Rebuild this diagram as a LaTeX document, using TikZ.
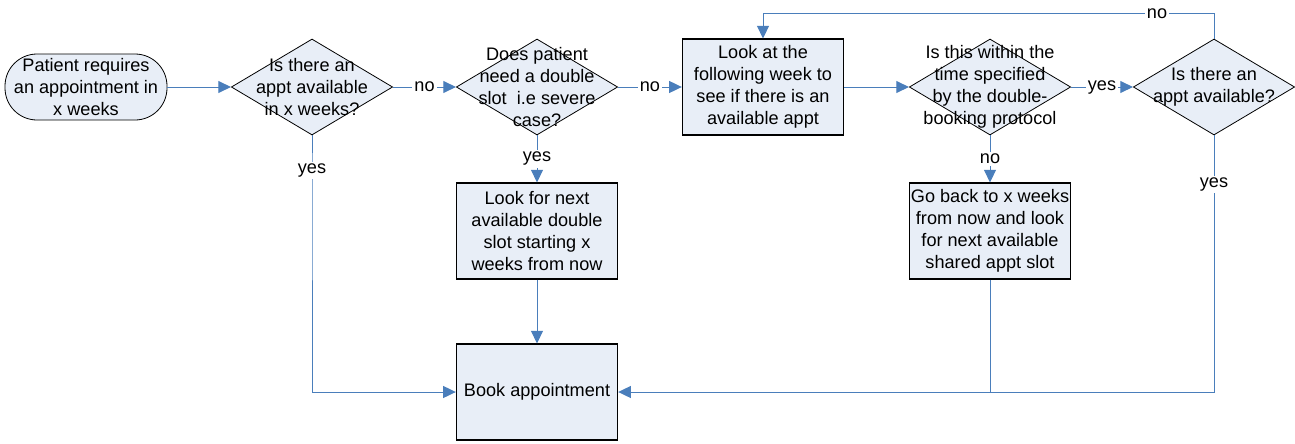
\documentclass[tikz,border=0pt]{standalone}
\usepackage{fontspec}
\setmainfont{Liberation Sans}
\usetikzlibrary{shapes.geometric,arrows.meta}
\definecolor{boxfill}{RGB}{232,238,247}
\definecolor{linkblue}{RGB}{74,126,187}
\begin{document}
\begin{tikzpicture}[x=0.75pt, y=-0.75pt, font=\fontsize{13.6}{16.5}\selectfont,
	box/.style={draw, fill=boxfill, line width=0.8pt, minimum width=121pt, minimum height=72pt, align=center, inner sep=1pt},
	decision/.style={draw, fill=boxfill, diamond, line width=0.6pt, minimum width=121pt, minimum height=72pt, inner sep=0pt},
	startbox/.style={draw, fill=boxfill, line width=0.6pt, rounded corners=24pt, minimum width=121.5pt, minimum height=49.5pt, align=center, inner sep=1pt},
	link/.style={draw=linkblue, line width=0.75pt, -{Triangle[length=9.5pt,width=9pt]}},
	lbl/.style={fill=white, inner sep=1.5pt}]
	\useasboundingbox (0,0) rectangle (1295,443);
	% top row
	\node[startbox] (patient) at (86,87) {Patient requires\\an appointment in\\x weeks};
	\node[decision, label={[align=center]center:{Is there an\\appt available\\in x weeks?}}] (avail) at (312,87) {};
	\node[decision, label={[align=center]center:{Does patient\\need a double\\slot\ \ i.e severe\\case?}}] (double) at (537,87) {};
	\node[box] (nextweek) at (763,87) {Look at the\\following week to\\see if there is an\\available appt};
	\node[decision, label={[align=center]center:{Is this within the\\time specified\\by the double-\\booking protocol}}] (within) at (990,87) {};
	\node[decision, label={[align=center]center:{Is there an\\appt available?}}] (again) at (1214,87) {};
	% lower boxes
	\node[box] (doubleslot) at (537,231) {Look for next\\available double\\slot starting x\\weeks from now};
	\node[box] (goback) at (990,231) {Go back to x weeks\\from now and look\\for next available\\shared appt slot};
	\node[box] (book) at (537,392) {Book appointment};
	% connectors
	\draw[link] (patient) -- (avail);
	\draw[link] (avail) -- node[lbl]{no} (double);
	\draw[link] (double) -- node[lbl]{no} (nextweek);
	\draw[link] (nextweek) -- (within);
	\draw[link] (within) -- node[lbl]{yes} (again);
	\draw[link] (double) -- node[lbl]{yes} (doubleslot);
	\draw[link] (within) -- node[lbl]{no} (goback);
	\draw[link] (doubleslot) -- (book);
	\draw[link] (avail.south) -- ++(0,35) node[lbl]{yes} |- (book.west);
	\draw[link] (goback.south) |- (book.east);
	\draw[draw=linkblue, line width=0.75pt] (again.south) -- ++(0,49) node[lbl]{yes} |- (goback.south |- book.east);
	\draw[link] (again.north) -- ++(0,-25) -- ++(-57,0) node[lbl]{no} -| (nextweek.north);
\end{tikzpicture}
\end{document}
